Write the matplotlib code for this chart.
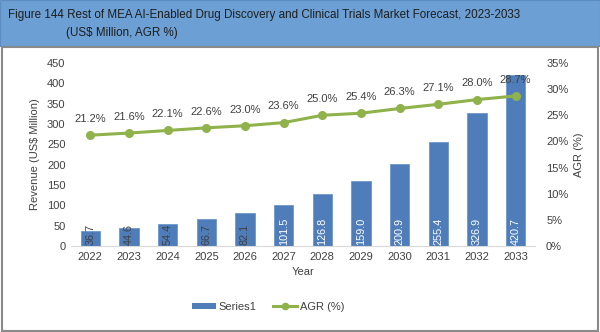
import matplotlib
matplotlib.use('Agg')
import matplotlib.pyplot as plt
from matplotlib.patches import Rectangle
from matplotlib.lines import Line2D
import numpy as np

plt.rcParams['font.family'] = ['Liberation Sans', 'DejaVu Sans']

# data
years = ['2022', '2023', '2024', '2025', '2026', '2027',
         '2028', '2029', '2030', '2031', '2032', '2033']
revenue = [36.7, 44.6, 54.4, 66.7, 82.1, 101.5, 126.8, 159.0, 200.9, 255.4, 326.9, 420.7]
agr = [21.2, 21.6, 22.1, 22.6, 23.0, 23.6, 25.0, 25.4, 26.3, 27.1, 28.0, 28.7]

bar_color = '#4F7DBA'
line_color = '#8FB24A'
text_color = '#404040'

fig = plt.figure(figsize=(6.0, 3.32), dpi=100)
W, H = 600, 332

# title band and outer border
fig.patches.append(Rectangle((0, 1 - 46 / H), 1, 46 / H, transform=fig.transFigure,
                             facecolor='#6C9FD3', edgecolor='#5C8CC0', lw=0.8, zorder=0))
fig.patches.append(Rectangle((1.5 / W, 1.5 / H), 596 / W, (H - 48) / H, transform=fig.transFigure,
                             facecolor='none', edgecolor='#8A8A8A', lw=1.5, zorder=0))
fig.text(8 / W, 1 - 15 / H, 'Figure 144 Rest of MEA AI-Enabled Drug Discovery and Clinical Trials Market Forecast, 2023-2033',
         fontsize=8.4, color='#1E1E1E', va='center', ha='left')
fig.text(66 / W, 1 - 33 / H, '(US$ Million, AGR %)', fontsize=8.4, color='#1E1E1E', va='center', ha='left')

ax = fig.add_axes([71 / W, 1 - 246 / H, (535 - 71) / W, (246 - 63) / H])
x = np.arange(len(years))
bars = ax.bar(x, revenue, width=0.5, color=bar_color, edgecolor='#6F97CC', lw=0.6, zorder=2)
ax.set_xlim(-0.5, len(years) - 0.5)
ax.set_ylim(0, 450)
ax.set_yticks(np.arange(0, 451, 50))
ax.set_xticks(x)
ax.set_xticklabels(years)
ax.tick_params(axis='both', length=0, labelsize=8, colors=text_color, pad=4)
for s in ['top', 'left', 'right']:
    ax.spines[s].set_visible(False)
ax.spines['bottom'].set_color('#D9D9D9')
ax.set_xlabel('Year', fontsize=8, color=text_color, labelpad=4)
ax.set_ylabel('Revenue (US$ Million)', fontsize=8, color=text_color, labelpad=5)

for xi, v in zip(x, revenue):
    c = text_color if v < 90 else 'white'
    ax.text(xi, 3, f'{v:.1f}', rotation=90, ha='center', va='bottom',
            fontsize=7.8, color=c, zorder=4)

ax2 = ax.twinx()
ax2.plot(x, agr, color=line_color, lw=2.2, marker='o', ms=5.5, zorder=3)
ax2.set_ylim(0, 35)
ax2.set_yticks(np.arange(0, 36, 5))
ax2.set_yticklabels([f'{t}%' for t in range(0, 36, 5)])
ax2.tick_params(axis='y', length=0, labelsize=8, colors=text_color, pad=8)
for s in ['top', 'left', 'right', 'bottom']:
    ax2.spines[s].set_visible(False)
ax2.set_ylabel('AGR (%)', fontsize=8, color=text_color, labelpad=4)
for xi, v in zip(x, agr):
    ax2.annotate(f'{v:.1f}%', (xi, v), xytext=(0, 8), textcoords='offset points',
                 ha='center', va='bottom', fontsize=8, color=text_color)

handles = [Rectangle((0, 0), 1, 1, facecolor=bar_color),
           Line2D([], [], color=line_color, lw=2.2, marker='o', ms=4.5)]
fig.legend(handles, ['Series1', 'AGR (%)'], loc='center', bbox_to_anchor=(268 / W, 1 - 307 / H),
           ncol=2, frameon=False, fontsize=8, handlelength=2.2, handleheight=0.5,
           columnspacing=1.5, handletextpad=0.2, labelcolor=text_color)

fig.savefig('out.png', dpi=100, facecolor='white')
